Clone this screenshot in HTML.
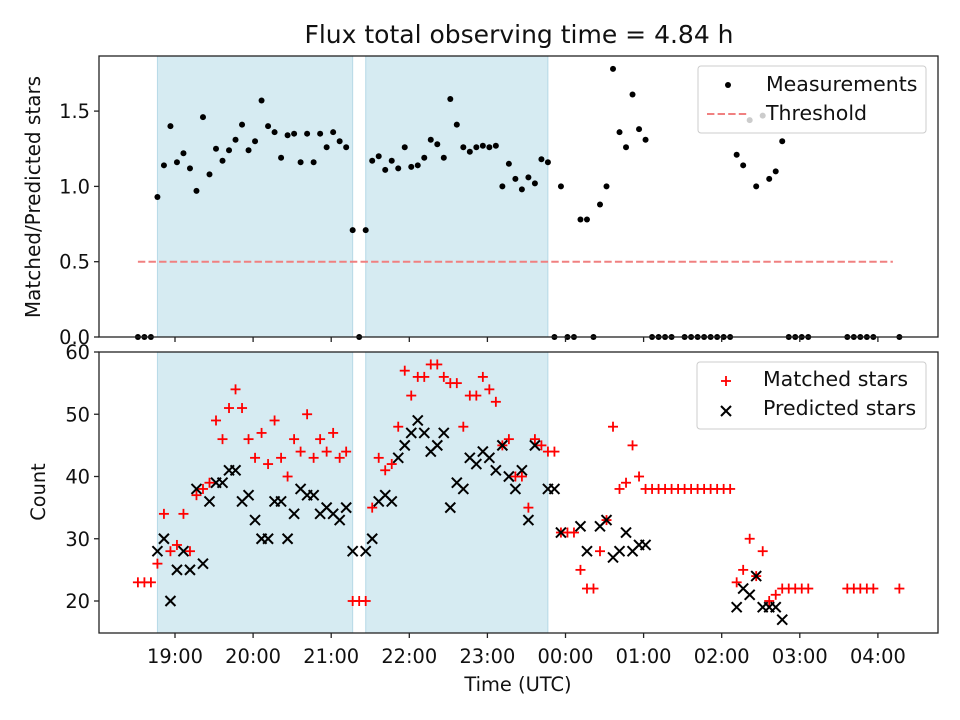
<!DOCTYPE html>
<html><head><meta charset="utf-8"><style>
html,body{margin:0;padding:0;background:#fff;}
svg{display:block;font-family:"DejaVu Sans","Liberation Sans",sans-serif;}
</style></head><body>
<svg id="chart" width="960" height="720" viewBox="0 0 960 720"></svg>
<script>
const times = [31.5,36.5,41.5,46.5,51.5,56.5,61.5,66.5,71.5,76.5,81.5,86.5,91.5,96.5,101.5,106.5,111.5,116.5,121.5,126.5,131.5,136.5,141.5,146.5,151.5,156.5,161.5,166.5,171.5,176.5,181.5,186.5,191.5,196.5,201.5,206.5,211.5,216.5,221.5,226.5,231.5,236.5,241.5,246.5,251.5,256.5,261.5,266.5,271.5,276.5,281.5,286.5,291.5,296.5,301.5,306.5,311.5,316.5,321.5,326.5,331.5,336.5,341.5,346.5,351.5,356.5,361.5,366.5,371.5,376.5,381.5,386.5,391.5,396.5,401.5,406.5,411.5,416.5,421.5,426.5,431.5,436.5,441.5,446.5,451.5,456.5,461.5,466.5,471.5,476.5,481.5,486.5,491.5,496.5,501.5,506.5,511.5,516.5,521.5,526.5,531.5,536.5,541.5,546.5,551.5,556.5,561.5,566.5,571.5,576.5,581.5,586.5,591.5,596.5,601.5,606.5,611.5,616.5];
const ratio = [0,0,0,0.93,1.14,1.40,1.16,1.22,1.12,0.97,1.46,1.08,1.25,1.17,1.24,1.31,1.41,1.24,1.30,1.57,1.40,1.36,1.19,1.34,1.35,1.16,1.35,1.16,1.35,1.26,1.36,1.30,1.26,0.71,0,0.71,1.17,1.20,1.11,1.17,1.12,1.26,1.13,1.14,1.19,1.31,1.28,1.19,1.58,1.41,1.26,1.23,1.26,1.27,1.26,1.27,1.00,1.15,1.05,0.98,1.06,1.02,1.18,1.16,0,1.00,0,0,0.78,0.78,0,0.88,1.00,1.78,1.36,1.26,1.61,1.38,1.31,0,0,0,0,null,0,0,0,0,0,0,0,0,1.21,1.14,1.44,1.00,1.47,1.05,1.10,1.30,0,0,0,0,null,null,null,null,null,0,0,0,0,0,null,null,null,0];
const matched = [23,23,23,26,34,28,29,34,28,37,38,39,49,46,51,54,51,46,43,47,42,49,43,40,46,44,50,43,46,44,47,43,44,20,20,20,35,43,41,42,48,57,53,56,56,58,58,56,55,55,48,53,53,56,54,52,45,46,40,40,35,46,45,44,44,31,31,31,25,22,22,28,33,48,38,39,45,40,38,38,38,38,38,38,38,38,38,38,38,38,38,38,23,25,30,24,28,20,21,22,22,22,22,22,null,null,null,null,null,22,22,22,22,22,null,null,null,22];
const predicted = [null,null,null,28,30,20,25,28,25,38,26,36,39,39,41,41,36,37,33,30,30,36,36,30,34,38,37,37,34,35,34,33,35,28,null,28,30,36,37,36,43,45,47,49,47,44,45,47,35,39,38,43,42,44,43,41,45,40,38,41,33,45,null,38,38,31,null,null,32,28,null,32,33,27,28,31,28,29,29,null,null,null,null,null,null,null,null,null,null,null,null,null,19,22,21,24,19,19,19,17,null,null,null,null,null,null,null,null,null,null,null,null,null,null,null,null,null,null];
const threshold = 0.5;
const thresholdRange = [31.5, 611.5];
const shadeRanges = [[46.5,196.5],[206.5,346.5]];
const xTickLabels = ["19:00","20:00","21:00","22:00","23:00","00:00","01:00","02:00","03:00","04:00"];
const xTickMinutes = [60,120,180,240,300,360,420,480,540,600];
const topTicks = [0,0.5,1.0,1.5];
const botTicks = [20,30,40,50,60];

const NS="http://www.w3.org/2000/svg";
const svg=document.getElementById('chart');
function mk(tag,attrs,parent){const e=document.createElementNS(NS,tag);for(const k in attrs)e.setAttribute(k,attrs[k]);(parent||svg).appendChild(e);return e;}
const L=99,R=938,T1=56,B1=337,T2=352,B2=633;
function xS(m){return 175+(m-60)/60*78.1;}
function yTop(v){return 337-v*150.6;}
function yBot(v){return 601-(v-20)*6.225;}

[[T1,B1],[T2,B2]].forEach(function(p,pi){
  shadeRanges.forEach(function(r,ri){
    const e=mk('rect',{x:xS(r[0]),y:p[0],width:xS(r[1])-xS(r[0]),height:p[1]-p[0],fill:'rgba(173,216,230,0.5)',stroke:'rgba(150,200,220,0.6)','stroke-width':1});
    
    
  });
});
const th=mk('line',{x1:xS(thresholdRange[0]),x2:xS(thresholdRange[1]),y1:yTop(threshold),y2:yTop(threshold),stroke:'#f08080','stroke-width':2,'stroke-dasharray':'7.4,3.2'});



times.forEach(function(t,i){
  if(ratio[i]===null)return;
  const c=mk('circle',{cx:xS(t),cy:yTop(ratio[i]),r:3,fill:'#000'});
  
  
});
function plus(x,y){const g=mk('g',{stroke:'red','stroke-width':1.8});mk('line',{x1:x-5,x2:x+5,y1:y,y2:y},g);mk('line',{x1:x,x2:x,y1:y-5,y2:y+5},g);return g;}
function cross(x,y){const g=mk('g',{stroke:'#000','stroke-width':2});mk('line',{x1:x-5,x2:x+5,y1:y-5,y2:y+5},g);mk('line',{x1:x-5,x2:x+5,y1:y+5,y2:y-5},g);return g;}
times.forEach(function(t,i){
  if(matched[i]===null)return;
  const g=plus(xS(t),yBot(matched[i]));
  
  
});
times.forEach(function(t,i){
  if(predicted[i]===null)return;
  const g=cross(xS(t),yBot(predicted[i]));
  
  
});

[[T1,B1,'top'],[T2,B2,'bottom']].forEach(function(p){
  const f=mk('rect',{x:L,y:p[0],width:R-L,height:p[1]-p[0],fill:'none',stroke:'#222','stroke-width':1.3});
  
  
  xTickMinutes.forEach(function(m){mk('line',{x1:xS(m),x2:xS(m),y1:p[1],y2:p[1]+5,stroke:'#222','stroke-width':1.3});});
});
xTickLabels.forEach(function(lab,i){
  const e=mk('text',{x:xS(xTickMinutes[i]),y:663,'text-anchor':'middle','font-size':19.4,fill:'#111'});e.textContent=lab;
  
  
});
topTicks.forEach(function(v){
  const y=yTop(v);mk('line',{x1:L-5,x2:L,y1:y,y2:y,stroke:'#222','stroke-width':1.3});
  const e=mk('text',{x:90,y:y+7,'text-anchor':'end','font-size':19.4,fill:'#111'});e.textContent=v.toFixed(1);
  
  
});
botTicks.forEach(function(v){
  const y=yBot(v);mk('line',{x1:L-5,x2:L,y1:y,y2:y,stroke:'#222','stroke-width':1.3});
  const e=mk('text',{x:90,y:y+7,'text-anchor':'end','font-size':19.4,fill:'#111'});e.textContent=String(v);
  
  
});
</script>
<svg width="960" height="720" style="position:absolute;left:0;top:0">
<text x="519" y="43" text-anchor="middle" font-size="25" fill="#111">Flux total observing time = 4.84 h</text>
<text x="518" y="691" text-anchor="middle" font-size="19.4" fill="#111">Time (UTC)</text>
<text transform="translate(40,197) rotate(-90)" text-anchor="middle" font-size="20" fill="#111">Matched/Predicted stars</text>
<text transform="translate(45,492) rotate(-90)" text-anchor="middle" font-size="19.4" fill="#111">Count</text>
<g>
<rect x="698" y="66" width="228" height="67" rx="3" fill="rgba(255,255,255,0.8)" stroke="#ccc"/>
<circle cx="728" cy="85" r="3" fill="#000"/>
<text x="766" y="91" font-size="20.5" fill="#111">Measurements</text>
<line x1="707" x2="748" y1="114" y2="114" stroke="#f08080" stroke-width="2" stroke-dasharray="7.4,3.2"/>
<text x="766" y="120" font-size="20.5" fill="#111">Threshold</text>
</g>
<g>
<rect x="697" y="362" width="229" height="67" rx="3" fill="rgba(255,255,255,0.8)" stroke="#ccc"/>
<g stroke="red" stroke-width="1.8"><line x1="721" x2="731" y1="381" y2="381"/><line x1="726" x2="726" y1="376" y2="386"/></g>
<text x="763" y="386" font-size="20.5" fill="#111">Matched stars</text>
<g stroke="#000" stroke-width="2"><line x1="721" x2="731" y1="406" y2="416"/><line x1="721" x2="731" y1="416" y2="406"/></g>
<text x="763" y="415" font-size="20.5" fill="#111">Predicted stars</text>
</g>
</svg>
</body></html>
